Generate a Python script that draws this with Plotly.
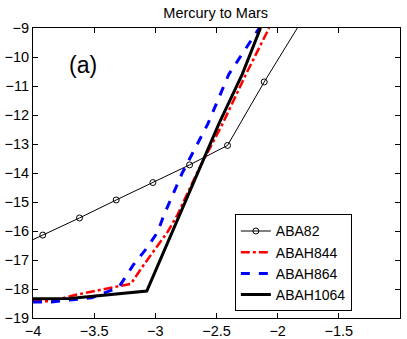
import plotly.graph_objects as go

# series
aba82_x = [-4.22, -3.92, -3.62, -3.32, -3.02, -2.72, -2.41, -2.11, -1.81]
aba82_y = [-16.73, -16.14, -15.55, -14.93, -14.33, -13.72, -13.05, -10.86, -8.8]

abah844_x = [-4.0, -3.85, -3.65, -3.4, -3.2, -3.1, -3.0, -2.9, -2.82, -2.66, -2.45, -2.26, -2.07]
abah844_y = [-18.42, -18.42, -18.2, -17.98, -17.82, -17.2, -16.6, -16.03, -15.45, -14.0, -12.3, -10.6, -9.0]

abah864_x = [-4.0, -3.85, -3.7, -3.52, -3.3, -3.18, -3.07, -2.98, -2.93, -2.78, -2.57, -2.40, -2.15]
abah864_y = [-18.45, -18.45, -18.38, -18.3, -17.95, -17.17, -16.59, -16.03, -15.45, -14.0, -12.3, -10.6, -9.0]

abah1064_x = [-4.0, -3.7, -3.07, -2.80, -2.48, -2.29, -2.14]
abah1064_y = [-18.34, -18.33, -18.07, -15.45, -12.3, -10.6, -9.0]

FONT = "Liberation Sans, Arial, Helvetica, sans-serif"

fig = go.Figure()
fig.add_trace(go.Scatter(
    x=aba82_x, y=aba82_y, name="ABA82", mode="lines+markers",
    line=dict(color="black", width=1),
    marker=dict(symbol="circle-open", size=6, color="black", line=dict(width=1)),
))
fig.add_trace(go.Scatter(
    x=abah844_x, y=abah844_y, name="ABAH844", mode="lines",
    line=dict(color="#ff0000", width=2.5, dash="dashdot"),
))
fig.add_trace(go.Scatter(
    x=abah864_x, y=abah864_y, name="ABAH864", mode="lines",
    line=dict(color="#0000ff", width=3, dash="dash"),
))
fig.add_trace(go.Scatter(
    x=abah1064_x, y=abah1064_y, name="ABAH1064", mode="lines",
    line=dict(color="black", width=3),
))

axis_style = dict(
    showgrid=False, zeroline=False, automargin=False,
    showline=True, linecolor="black", linewidth=1, mirror="ticks",
    ticks="inside", ticklen=5, tickcolor="black",
    tickfont=dict(family=FONT, size=14.5, color="black"),
)

fig.add_annotation(
    x=-3.59, y=-10.28, xref="x", yref="y", text="(a)", showarrow=False,
    font=dict(family=FONT, size=23, color="black"),
)

fig.update_layout(
    width=407, height=339,
    margin=dict(l=33, r=7, t=28, b=21),
    paper_bgcolor="white", plot_bgcolor="white",
    title=dict(text="Mercury to Mars", x=0.53, xanchor="center", y=0.962, yanchor="middle",
               font=dict(family=FONT, size=14.5, color="black")),
    xaxis=dict(range=[-4, -1], dtick=0.5, **axis_style),
    yaxis=dict(range=[-19, -9], dtick=1, **axis_style),
    legend=dict(
        x=0.55, y=0.19, xanchor="left", yanchor="middle",
        bgcolor="white", bordercolor="black", borderwidth=1,
        font=dict(family=FONT, size=14, color="black"),
        tracegroupgap=0, entrywidth=78, entrywidthmode="pixels",
    ),
    showlegend=True,
)

# the page body has a default 8px margin; drop it so the figure sits at the corner
fig.write_html(
    "out.html",
    config={"displayModeBar": False},
    post_script="document.body.style.margin='0';",
)
